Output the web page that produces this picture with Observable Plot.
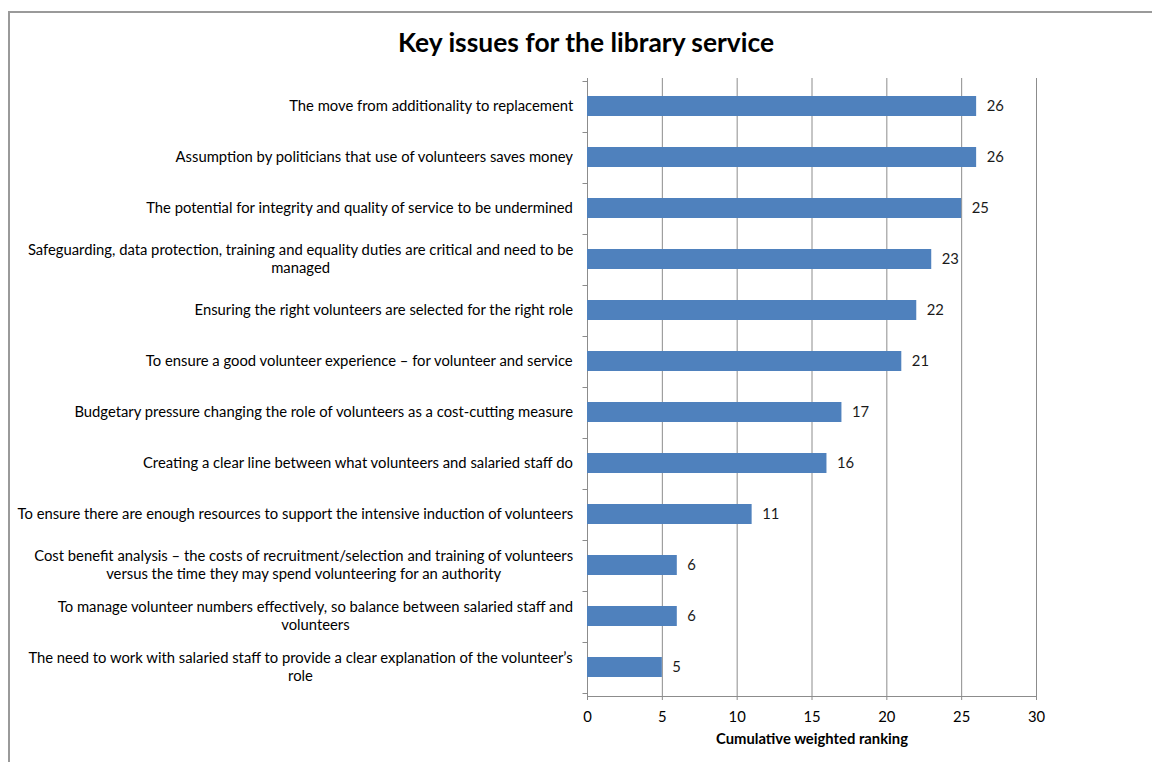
<!DOCTYPE html>
<html>
<head>
<meta charset="utf-8">
<script src="https://cdn.jsdelivr.net/npm/d3@7"></script>
<script src="https://cdn.jsdelivr.net/npm/@observablehq/plot@0.6"></script>
<style>
  html, body { margin: 0; padding: 0; background: #fff; overflow: hidden; }
  #border { position: absolute; left: 8px; top: 11px; width: 1300px; height: 900px;
            border-left: 2px solid #9a9a9a; border-top: 2px solid #9a9a9a; }
  #title { position: absolute; left: 0; top: 27px; width: 1172px; text-align: center;
           font: bold 26.4px Lato, sans-serif; color: #000; line-height: 30px; }
  #chart { position: absolute; left: 0; top: 60px; }
  #chart svg { display: block; }
</style>
</head>
<body>
<div id="border"></div>
<div id="title"></div>
<div id="chart"></div>
<script>
const title = "Key issues for the library service";
const xLabel = "Cumulative weighted ranking";
const categories = [
  "The move from additionality to replacement",
  "Assumption by politicians that use of volunteers saves money",
  "The potential for integrity and quality of service to be undermined",
  "Safeguarding, data protection, training and equality duties are critical and need to be\nmanaged",
  "Ensuring the right volunteers are selected for the right role",
  "To ensure a good volunteer experience – for volunteer and service",
  "Budgetary pressure changing the role of volunteers as a cost-cutting measure",
  "Creating a clear line between what volunteers and salaried staff do",
  "To ensure there are enough resources to support the intensive induction of volunteers",
  "Cost benefit analysis – the costs of recruitment/selection and training of volunteers\nversus the time they may spend volunteering for an authority",
  "To manage volunteer numbers effectively, so balance between salaried staff and\nvolunteers",
  "The need to work with salaried staff to provide a clear explanation of the volunteer’s\nrole"
];
const values = [26, 26, 25, 23, 22, 21, 17, 16, 11, 6, 6, 5];
const xTicks = [0, 5, 10, 15, 20, 25, 30];

const barColor = "#4F81BD";
const gridColor = "#8c8c8c";
const fontSize = 14.8;
const fontFamily = "Lato, sans-serif";
const padInner = 0.6;

document.getElementById("title").textContent = title;

const data = categories.map((c, i) => ({category: c, value: values[i]}));

// custom y axis: boundary tick marks + centered multi-line labels, via the plot's scales
function yAxis(index, scales, channels, dims) {
  const {x, y} = scales;
  const step = y(categories[1]) - y(categories[0]);
  const bw = step * (1 - padInner);
  const x0 = Math.round(x(0)) + 0.5;
  const g = d3.create("svg:g");
  const ctx = document.createElement("canvas").getContext("2d");
  ctx.font = `${fontSize}px Lato`;
  const bottom = Math.round(dims.height - dims.marginBottom) + 0.5;
  g.append("line").attr("x1", x0).attr("x2", Math.round(x(xTicks[xTicks.length - 1])) + 0.5)
    .attr("y1", bottom).attr("y2", bottom).attr("stroke", gridColor);
  const bounds = categories.map(c => y(c) - step * padInner / 2);
  bounds.push(y(categories[categories.length - 1]) + bw + step * padInner / 2);
  for (const b of bounds) {
    const yy = Math.round(b) + 0.5;
    g.append("line").attr("x1", x0 - 5).attr("x2", x0).attr("y1", yy).attr("y2", yy).attr("stroke", gridColor);
  }
  const right = x(0) - 13.5;
  const lh = 18;
  for (const c of categories) {
    const lines = c.split("\n");
    const w = Math.max(...lines.map(l => ctx.measureText(l).width));
    const cy = y(c) + bw / 2;
    const t = g.append("text")
      .attr("text-anchor", "middle")
      .attr("font-size", fontSize)
      .attr("fill", "#000")
      .attr("x", right - w / 2)
      .attr("y", cy - (lines.length - 1) * lh / 2);
    lines.forEach((l, i) => {
      t.append("tspan").attr("x", right - w / 2).attr("dy", i === 0 ? "0.3em" : lh).text(l);
    });
  }
  return g.node();
}

const chart = Plot.plot({
  width: 1152,
  height: 702,
  marginLeft: 587,
  marginRight: 116,
  marginTop: 18,
  marginBottom: 66,
  style: {fontFamily, fontSize: fontSize + "px", color: "#000", background: "transparent", overflow: "visible"},
  x: {domain: [0, 30], ticks: xTicks},
  y: {domain: categories, paddingInner: padInner, paddingOuter: padInner / 2, axis: null},
  marks: [
    Plot.ruleX(xTicks, {stroke: gridColor, strokeWidth: 1}),
    Plot.barX(data, {x: "value", y: "category", fill: barColor}),
    Plot.text(data, {x: "value", y: "category", text: d => String(d.value), textAnchor: "start", dx: 10, fill: "#1a1a1a", fontSize: fontSize}),
    Plot.axisX({ticks: xTicks, tickSize: 4, tickPadding: 11, stroke: gridColor, label: null, fontSize: fontSize}),
    Plot.text([xLabel], {frameAnchor: "bottom", text: d => d, dy: 47, fontWeight: "bold", fontSize: 14.8}),
    yAxis
  ]
});
document.getElementById("chart").appendChild(chart);
</script>
</body>
</html>
